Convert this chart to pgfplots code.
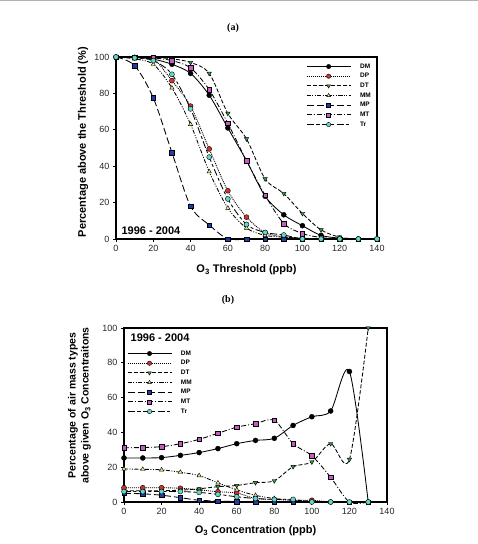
\documentclass[border=0pt]{standalone}
\usepackage{fontspec}
\setmainfont{Liberation Sans}
\newfontfamily\titlefont{Liberation Serif}
\usepackage{pgfplots}
\pgfplotsset{compat=1.18}

\definecolor{dpred}{RGB}{205,50,45}
\definecolor{dtgreen}{RGB}{60,150,70}
\definecolor{mmyellow}{RGB}{232,232,150}
\definecolor{mpblue}{RGB}{30,60,170}
\definecolor{mtmag}{RGB}{200,90,200}
\definecolor{trcyan}{RGB}{100,215,200}

\pgfplotsset{
  airmass/.style={
    scale only axis, xmin=0, xmax=140, ymin=0, ymax=100,
    xtick={0,20,...,140}, ytick={0,20,...,100},
    axis line style={line width=1.1pt},
    tick style={black, line width=0.8pt}, tick align=outside, major tick length=3pt,
    xtick pos=bottom, ytick pos=left,
    clip=false,
    /pgf/number format/assume math mode=true,
    tick label style={font=\fontsize{9}{10}\selectfont, text=black!85},
    label style={font=\bfseries\fontsize{11}{13}\selectfont},
    every axis plot/.append style={line width=0.85pt, smooth, tension=0.5, mark size=2.5pt},
    legend style={draw=none, fill=none, inner xsep=0pt, inner ysep=0pt,
      column sep=7pt, row sep=-0.3pt,
      font=\bfseries\fontsize{6.5}{7}\selectfont, nodes={inner sep=2pt}},
    legend cell align=left,
    legend image code/.code={\draw[mark repeat=2,mark phase=2,mark size=2.2pt,##1]
      plot coordinates {(0pt,0pt) (22pt,0pt) (44pt,0pt)};},
  },
  sDM/.style={black, solid, mark=*, mark options={solid, fill=black, draw=black, line width=0.4pt}},
  sDP/.style={black, dash pattern=on 1pt off 1pt, mark=*, mark options={solid, fill=dpred, draw=black, line width=0.4pt}},
  sDT/.style={black, dash pattern=on 4pt off 2pt, mark=triangle*, mark options={solid, fill=dtgreen, draw=black, line width=0.4pt, rotate=180}},
  sMM/.style={black, dash pattern=on 4pt off 1.5pt on 1pt off 1.5pt on 1pt off 1.5pt, mark=triangle*, mark options={solid, fill=mmyellow, draw=black, line width=0.4pt}},
  sMP/.style={black, dash pattern=on 7pt off 3pt, mark=square*, mark options={solid, fill=mpblue, draw=black, line width=0.4pt, scale=0.9}},
  sMT/.style={black, dash pattern=on 5pt off 2pt on 1pt off 2pt, mark=square*, mark options={solid, fill=mtmag, draw=black, line width=0.4pt, scale=0.9}},
  sTr/.style={black, dash pattern=on 7pt off 2.5pt on 3pt off 2.5pt, mark=*, mark options={solid, fill=trcyan, draw=black, line width=0.4pt}},
}

% (a) percentage of days above each threshold, per air mass type
\pgfplotstableread{
x   DM    DP    DT    MM    MP    MT    Tr
0   100   100   100   100   100   100   100
10  99.7  99.8  100   99    95.3  100   99.5
20  98.8  99    99.8  96    77.5  99.5  98
30  96    87    99    83    47.5  98    90.5
40  91    73    97    63    18    94    71.5
50  79    49.5  91    37    7.7   82    45
60  61    26.5  69    17    0     63.5  22
70  43    12    55    6     0     43    8
80  23.5  3.5   33    2     0     24    3.6
90  13.3  1.2   25    1     0     8.5   2.2
100 7.3   0.5   14    0.4   0     3     0
110 2     0     5     0     0     0.8   0
120 0.5   0     1     0     0     0     0
130 0     0     0     0     0     0     0
140 0     0     0     0     0     0     0
}\threshold

% (b) share of each air mass type above a given concentration
\pgfplotstableread{
x   DM    DT    MT    Tr
0   25.3  6.5   31.2  6
10  25.3  6.5   31.3  6
20  25.5  6.5   31.8  6
30  26.8  6.8   33.5  6
40  28.4  7.6   36    5.5
50  30.7  8.8   39.5  4.4
60  33.5  9.5   43    3
70  35.4  11.1  45    2
80  36.6  12.2  47    1.5
90  44    20.3  33.5  1.5
100 49    23    26.6  0
110 52.3  33.5  14.2  0
120 75    24.5  0     0
130 0     100   0     0
}\shareA

\pgfplotstableread{
x   DP    MM
0   8.2   19
10  8.2   18.8
20  8.2   18.5
30  7.9   17.1
40  7     15.2
50  5.9   11
60  5.2   7
70  2     3.8
80  1.5   2
90  1     1
100 1     0.5
110 0     0
}\shareB

\pgfplotstableread{
x   MP
0   5
10  4.7
20  3.9
30  2.5
40  1
50  0.6
60  0.2
70  0
80  0
90  0
}\shareC

\begin{document}
\begin{tikzpicture}
\useasboundingbox (0pt,0pt) rectangle (478pt,544pt);
\draw[gray!60, line width=1pt] (0pt,543pt) -- (478pt,543pt);

\node[font=\titlefont\bfseries\fontsize{10}{12}\selectfont] at (233pt,516pt) {(a)};
\node[font=\titlefont\bfseries\fontsize{10}{12}\selectfont] at (228pt,244pt) {(b)};

\begin{axis}[airmass,
  at={(116pt,305pt)}, anchor=south west, width=261pt, height=182pt,
  xlabel={O\textsubscript{3} Threshold (ppb)},
  ylabel={Percentage above the Threshold (\%)},
  xlabel style={at={(axis description cs:0.5,-0.17)}, anchor=center},
  ylabel style={at={(axis description cs:-0.126,0.533)}, anchor=center},
  legend style={at={(axis description cs:0.728,0.976)}, anchor=north west},
]
\addplot[sDM] table[x=x, y=DM] {\threshold};
\addplot[sDP] table[x=x, y=DP] {\threshold};
\addplot[sDT] table[x=x, y=DT] {\threshold};
\addplot[sMM] table[x=x, y=MM] {\threshold};
\addplot[sMP] table[x=x, y=MP] {\threshold};
\addplot[sMT] table[x=x, y=MT] {\threshold};
\addplot[sTr] table[x=x, y=Tr] {\threshold};
\legend{DM,DP,DT,MM,MP,MT,Tr}
\node[anchor=west, font=\bfseries\fontsize{11}{13}\selectfont] at (axis description cs:0.008,0.045) {1996 - 2004};
\end{axis}

\begin{axis}[airmass,
  at={(124pt,42pt)}, anchor=south west, width=263pt, height=174pt,
  xlabel={O\textsubscript{3} Concentration (ppb)},
  ylabel={Percentage of air mass types\\above given O\textsubscript{3} Concentraitons},
  xlabel style={at={(axis description cs:0.5,-0.167)}, anchor=center},
  ylabel style={at={(axis description cs:-0.169,0.555)}, anchor=center, align=center,
    font=\bfseries\fontsize{10.5}{13}\selectfont},
  legend style={at={(axis description cs:0.011,0.883)}, anchor=north west},
]
\addplot[sDM] table[x=x, y=DM] {\shareA};
\addplot[sDP] table[x=x, y=DP] {\shareB};
\addplot[sDT] table[x=x, y=DT] {\shareA};
\addplot[sMM] table[x=x, y=MM] {\shareB};
\addplot[sMP] table[x=x, y=MP] {\shareC};
\addplot[sMT] table[x=x, y=MT] {\shareA};
\addplot[sTr] table[x=x, y=Tr] {\shareA};
\legend{DM,DP,DT,MM,MP,MT,Tr}
\node[anchor=west, font=\bfseries\fontsize{11}{13}\selectfont] at (axis description cs:0.012,0.943) {1996 - 2004};
\end{axis}
\end{tikzpicture}
\end{document}
